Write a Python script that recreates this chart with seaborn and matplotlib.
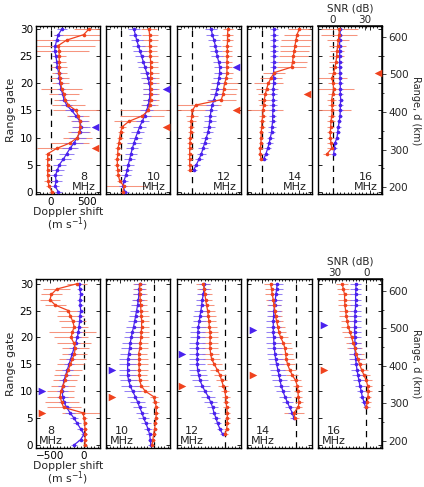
import numpy as np
import pandas as pd
import matplotlib
matplotlib.use("Agg")
import matplotlib.pyplot as plt
import matplotlib.transforms as mtransforms
from matplotlib.ticker import MultipleLocator
import seaborn as sns

sns.set_theme(style="ticks")
plt.rcParams["font.family"] = ["DejaVu Sans"]

RED = "#f0431e"
BLUE = "#4a22ee"
RED_BAR = "#f47a5e"
BLUE_BAR = "#7c63f2"

freqs = [8, 10, 12, 14, 16]

# ---- top row (first gate of each profile, Doppler shift m/s, half error bars)
top_start = [0, 0, 4, 6, 7]
top_red_8 = [20, -27, -32, -41, -41, -41, -41, -41, 82, 264, 364, 391, 400, 400, 378, 346, 241, 200, 182, 150,
             137, 127, 118, 118, 118, 114, 118, 105, 218, 450, 520]
top_blue_8 = [105, 59, 73, 64, 91, 118, 173, 218, 264, 318, 364, 400, 414, 400, 346, 287, 218, 182, 164, 141,
              127, 118, 109, 91, 82, 73, 55, 64, 82, 105, 150]
top_red_10 = [27, 41, -18, -36, -45, -50, -50, -45, -41, -27, -18, -5, 18, 109, 291, 373, 391, 405, 405, 405,
              405, 405, 405, 405, 405, 400, 396, 391, 391, 391, 382]
top_blue_10 = [55, 27, 41, 64, 86, 100, 118, 136, 155, 177, 200, 228, 255, 291, 323, 350, 373, 387, 396, 396,
               387, 369, 350, 328, 305, 282, 259, 237, 214, 196, 177]
top_red_12 = [-18, -27, -27, -27, -27, -23, -18, -14, -9, -5, 0, 10, 55, 405, 428, 437, 450, 473, 482, 482,
              482, 487, 487, 487, 490, 490, 496]
top_blue_12 = [27, 64, 100, 132, 155, 177, 200, 223, 237, 246, 255, 264, 282, 305, 328, 346, 360, 373, 382, 382,
               369, 350, 337, 323, 305, 282, 268]
top_red_14 = [-18, -27, -27, -18, -18, -14, -9, -5, 5, 9, 18, 27, 41, 59, 82, 118, 164, 400, 414, 423,
              437, 446, 460, 473, 505]
top_blue_14 = [18, 50, 73, 95, 109, 127, 132, 141, 141, 146, 146, 150, 150, 150, 155, 155, 155, 155, 159, 159,
               159, 159, 159, 159, 159]
top_red_16 = [-82, -18, -27, -36, -36, -32, -27, -18, -9, -14, -18, -5, 9, 0, -14, 9, 27, 41, 50, 55,
              64, 73, 82, 86]
top_blue_16 = [9, 18, 27, 55, 64, 73, 86, 96, 100, 100, 105, 100, 100, 100, 96, 96, 91, 91, 91, 91,
               91, 91, 96, 100]

top_red_8_err = [40, 40, 60, 30, 30, 30, 40, 40, 270, 260, 200, 150, 100, 120, 150, 310, 230, 150, 200, 280,
                 120, 130, 100, 110, 90, 100, 400, 500, 500, 400, 200]
top_blue_8_err = [50, 60, 80, 90, 90, 90, 100, 100, 110, 120, 120, 120, 120, 110, 100, 90, 80, 70, 60, 60,
                  50, 50, 50, 50, 50, 50, 50, 50, 50, 60, 70]
top_red_10_err = [40, 300, 40, 40, 40, 40, 40, 40, 40, 40, 40, 40, 50, 200, 300, 380, 120, 110, 110, 110,
                  110, 110, 110, 100, 100, 100, 100, 100, 110, 110, 110]
top_blue_10_err = [50, 60, 60, 70, 70, 80, 80, 80, 80, 90, 90, 90, 90, 90, 90, 90, 90, 90, 90, 90,
                   90, 90, 90, 90, 90, 90, 90, 90, 80, 80, 80]
top_red_12_err = [40, 40, 40, 40, 40, 40, 40, 40, 40, 60, 80, 250, 350, 200, 180, 180, 180, 80, 80, 70,
                  70, 70, 70, 70, 70, 70, 70]
top_blue_12_err = [40, 50, 60, 60, 70, 70, 70, 70, 80, 80, 80, 80, 80, 80, 80, 80, 80, 80, 80, 80,
                   80, 80, 80, 80, 80, 80, 80]
top_red_14_err = [30, 30, 30, 30, 30, 30, 40, 40, 50, 270, 60, 80, 100, 150, 200, 150, 150, 200, 200, 200,
                  200, 200, 200, 180, 150]
top_blue_14_err = [40, 40, 50, 50, 50, 50, 50, 50, 50, 50, 50, 50, 50, 50, 50, 50, 50, 50, 50, 50,
                   50, 50, 50, 50, 50]
top_red_16_err = [60, 60, 50, 50, 50, 50, 50, 50, 250, 60, 60, 70, 280, 70, 200, 80, 80, 90, 100, 100,
                  120, 150, 250, 250]
top_blue_16_err = [30] * 24

top_red_tri = [8, 12, 15, 18, 22]
top_blue_tri = [12, 19, 23, None, None]

# ---- bottom row
bot_start = [0, 0, 2, 5, 7]
bot_red_8 = [15, 15, 20, 15, 10, 5, -20, -300, -330, -350, -340, -310, -280, -260, -230, -200, -170, -140, -130, -150,
             -190, -170, -145, -165, -200, -230, -420, -500, -480, -400, -100]
bot_blue_8 = [-147, -49, 0, -49, -98, -147, -206, -255, -294, -314, -318, -309, -294, -270, -245, -220, -196, -171, -147, -122,
              -98, -83, -73, -64, -59, -49, -55, -59, -49, -59, -73]
bot_red_10 = [-34, -20, -10, 5, 15, 25, 29, 29, 15, -10, -132, -191, -216, -221, -221, -225, -221, -230, -211, -206,
              -196, -191, -186, -186, -191, -196, -201, -206, -211, -216, -216]
bot_blue_10 = [-49, -59, -69, -93, -122, -157, -181, -216, -245, -279, -319, -353, -377, -392, -392, -392, -387, -377, -363, -353,
               -338, -323, -304, -289, -274, -260, -245, -235, -225, -221, -216]
bot_red_12 = [0, 25, 34, 34, 34, 25, 15, 10, 0, -25, -49, -74, -113, -157, -196, -211, -220, -220, -216, -220,
              -230, -235, -245, -255, -270, -284, -294, -304, -319]
bot_blue_12 = [-34, -74, -108, -132, -162, -181, -211, -245, -294, -333, -368, -387, -402, -407, -407, -407, -407, -407, -402, -397,
               -392, -377, -368, -353, -343, -333, -319, -309, -304]
bot_red_14 = [-10, -25, 40, 49, 40, 34, 25, 0, -49, -88, -118, -137, -147, -157, -181, -220, -245, -260, -279, -294,
              -304, -319, -328, -343, -353, -368]
bot_blue_14 = [-25, -49, -88, -122, -157, -186, -211, -230, -245, -260, -279, -294, -304, -314, -319, -323, -328, -328, -328, -323,
               -319, -309, -299, -289, -279, -270]
bot_red_16 = [0, 15, 25, 29, 20, 0, -34, -69, -98, -123, -147, -167, -191, -216, -240, -265, -279, -294, -304, -314,
              -319, -319, -338, -353]
bot_blue_16 = [-10, -34, -59, -74, -93, -108, -123, -137, -147, -157, -162, -167, -167, -167, -172, -172, -167, -167, -162, -157,
               -157, -157, -152, -152]

bot_red_8_err = [30, 30, 30, 30, 30, 40, 300, 250, 250, 200, 200, 180, 180, 180, 200, 200, 200, 180, 200, 250,
                 250, 350, 200, 200, 200, 150, 150, 150, 150, 200, 150]
bot_blue_8_err = [40, 40, 40, 50, 60, 60, 70, 70, 80, 80, 80, 80, 80, 80, 80, 80, 70, 70, 70, 60,
                  60, 60, 50, 50, 50, 50, 40, 40, 40, 40, 40]
bot_red_10_err = [30, 30, 30, 30, 30, 30, 40, 40, 50, 60, 100, 110, 120, 120, 130, 130, 130, 130, 120, 120,
                  120, 110, 110, 110, 110, 100, 100, 100, 100, 100, 100]
bot_blue_10_err = [40, 40, 50, 60, 70, 80, 90, 100, 110, 120, 130, 130, 130, 130, 130, 130, 130, 120, 120, 120,
                   110, 110, 110, 100, 100, 100, 90, 90, 90, 80, 80]
bot_red_12_err = [40, 40, 40, 40, 40, 50, 50, 60, 60, 70, 80, 90, 100, 110, 120, 120, 120, 120, 120, 120,
                  120, 110, 110, 110, 110, 100, 100, 100, 100]
bot_blue_12_err = [40, 50, 50, 60, 70, 80, 90, 100, 110, 120, 120, 120, 120, 120, 120, 120, 120, 120, 110, 110,
                   110, 100, 100, 100, 90, 90, 90, 80, 80]
bot_red_14_err = [60, 150, 60, 60, 60, 60, 70, 80, 90, 100, 110, 110, 110, 110, 110, 110, 110, 110, 100, 100,
                  100, 100, 100, 100, 90, 90]
bot_blue_14_err = [50, 60, 70, 80, 90, 100, 110, 110, 110, 110, 110, 110, 110, 110, 110, 110, 110, 110, 100, 100,
                   100, 100, 100, 90, 90, 90]
bot_red_16_err = [50, 50, 50, 60, 70, 80, 90, 100, 100, 110, 110, 110, 110, 110, 110, 110, 100, 100, 100, 100,
                  100, 90, 90, 90]
bot_blue_16_err = [30, 40, 50, 60, 70, 80, 80, 90, 90, 90, 90, 90, 90, 90, 90, 90, 90, 90, 80, 80,
                   80, 80, 80, 80]

bot_red_tri = [6, 9, 11, 13, 14]
bot_blue_tri = [10, 14, 17, 21.4, 22.3]

rows = [
    dict(start=top_start,
         red=[top_red_8, top_red_10, top_red_12, top_red_14, top_red_16],
         blue=[top_blue_8, top_blue_10, top_blue_12, top_blue_14, top_blue_16],
         red_err=[top_red_8_err, top_red_10_err, top_red_12_err, top_red_14_err, top_red_16_err],
         blue_err=[top_blue_8_err, top_blue_10_err, top_blue_12_err, top_blue_14_err, top_blue_16_err],
         red_tri=top_red_tri, blue_tri=top_blue_tri,
         bottom=0.601, height=0.3456, xlim=(-205, 676), ylim=(-0.48, 30.6),
         xticks=[0, 500], snr_ticks=[0, 30], snr_per_ms=30 / 433.0,
         tri_x=0.925, tri_marker="<", lab_x=0.74),
    dict(start=bot_start,
         red=[bot_red_8, bot_red_10, bot_red_12, bot_red_14, bot_red_16],
         blue=[bot_blue_8, bot_blue_10, bot_blue_12, bot_blue_14, bot_blue_16],
         red_err=[bot_red_8_err, bot_red_10_err, bot_red_12_err, bot_red_14_err, bot_red_16_err],
         blue_err=[bot_blue_8_err, bot_blue_10_err, bot_blue_12_err, bot_blue_14_err, bot_blue_16_err],
         red_tri=bot_red_tri, blue_tri=bot_blue_tri,
         bottom=0.0795, height=0.3476, xlim=(-710, 238), ylim=(-0.61, 30.87),
         xticks=[-500, 0], snr_ticks=[30, 0], snr_per_ms=-30 / 466.0,
         tri_x=0.09, tri_marker=">", lab_x=0.24),
]

panel_left = [0.0842, 0.25, 0.4167, 0.5833, 0.75]
panel_w = 0.152
FS = 7.5

fig = plt.figure(figsize=(4.24, 4.87), dpi=100)

for row in rows:
    for i, freq in enumerate(freqs):
        ax = fig.add_axes([panel_left[i], row["bottom"], panel_w, row["height"]])
        gates = np.arange(row["start"][i], 31)
        df = pd.concat([
            pd.DataFrame({"v": row["red"][i], "gate": gates, "err": row["red_err"][i], "beam": "red"}),
            pd.DataFrame({"v": row["blue"][i], "gate": gates, "err": row["blue_err"][i], "beam": "blue"}),
        ], ignore_index=True)

        ax.axvline(0, color="black", lw=0.9, ls=(0, (5, 4)), zorder=1)
        for beam, ecol in [("red", RED_BAR), ("blue", BLUE_BAR)]:
            sub = df[df["beam"] == beam]
            ax.errorbar(sub["v"], sub["gate"], xerr=sub["err"], fmt="none", ecolor=ecol,
                        elinewidth=0.75, capsize=0, alpha=0.8, zorder=2)
        sns.lineplot(data=df, x="v", y="gate", hue="beam", hue_order=["blue", "red"],
                     palette={"red": RED, "blue": BLUE}, orient="y", estimator=None,
                     marker="o", markersize=2.6, markeredgewidth=0, lw=0.9,
                     legend=False, ax=ax, zorder=3)

        # triangles marking gates
        trans = mtransforms.blended_transform_factory(ax.transAxes, ax.transData)
        for tri, col in [(row["red_tri"][i], RED), (row["blue_tri"][i], BLUE)]:
            if tri is not None:
                ax.scatter([row["tri_x"]], [tri], marker=row["tri_marker"], s=30, color=col,
                           transform=trans, clip_on=False, zorder=4, linewidths=0)

        ax.text(row["lab_x"], 0.015, f"{freq}\nMHz", transform=ax.transAxes, ha="center",
                va="bottom", fontsize=8, linespacing=1.0, color="#222222")

        ax.set_xlim(*row["xlim"])
        ax.set_ylim(*row["ylim"])
        ax.set_xticks(row["xticks"])
        ax.xaxis.set_minor_locator(MultipleLocator(50))
        ax.set_yticks(range(0, 31, 5))
        ax.tick_params(which="both", direction="in", top=True, right=True, width=0.6,
                       labelsize=FS, pad=2, colors="black")
        ax.tick_params(which="major", length=3)
        ax.tick_params(which="minor", length=1.6)
        for sp in ax.spines.values():
            sp.set_linewidth(1.0)
            sp.set_color("black")

        if i == 0:
            ax.set_ylabel("Range gate", fontsize=FS + 0.5, labelpad=3)
            ax.set_xlabel("Doppler shift\n(m s$^{-1}$)", fontsize=FS + 0.3, labelpad=0, linespacing=0.85)
        else:
            ax.set_xlabel("")
            ax.set_ylabel("")
            ax.tick_params(labelbottom=False, labelleft=False)

        if i == 4:
            k = row["snr_per_ms"]
            secx = ax.secondary_xaxis("top", functions=(lambda v, k=k: v * k, lambda s, k=k: s / k))
            secx.set_xticks(row["snr_ticks"])
            secx.tick_params(direction="in", length=3, width=0.6, labelsize=FS, pad=1)
            secx.set_xlabel("SNR (dB)", fontsize=FS, labelpad=2)

            secy = ax.secondary_yaxis("right", functions=(lambda g: 188 + 14.4 * g,
                                                          lambda r: (r - 188) / 14.4))
            secy.set_yticks(range(200, 601, 100))
            secy.yaxis.set_minor_locator(MultipleLocator(50))
            secy.tick_params(which="both", direction="out", width=0.6, labelsize=FS, pad=1.5)
            secy.tick_params(which="major", length=3)
            secy.tick_params(which="minor", length=1.6)
            secy.set_ylabel("Range, d (km)", fontsize=FS - 0.5, rotation=270, labelpad=9)

fig.savefig("out.png", dpi=100, facecolor="white")
